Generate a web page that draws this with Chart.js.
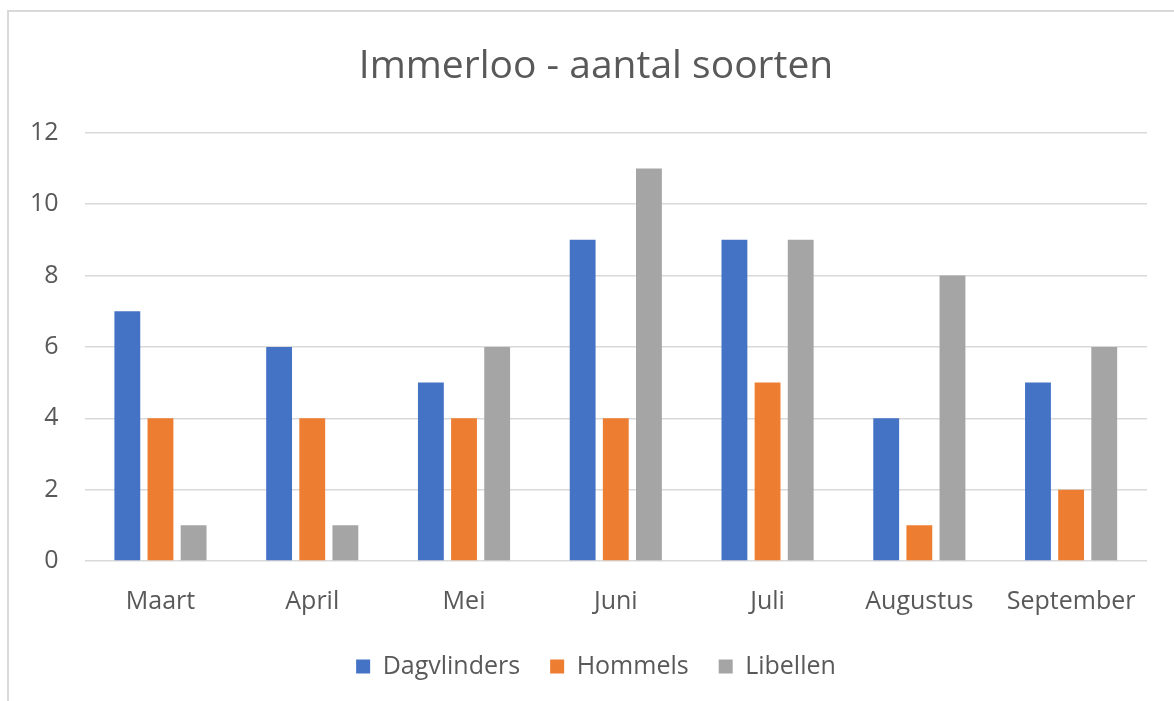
<!DOCTYPE html>
<html>
<head>
<meta charset="utf-8">
<title>Immerloo - aantal soorten</title>
<script src="https://cdn.jsdelivr.net/npm/chart.js@4"></script>
<style>
    html, body { margin: 0; padding: 0; background: #fff; overflow: hidden; }
    #frame {
        position: absolute;
        left: 7px;
        top: 10px;
        width: 1180px;
        height: 700px;
        border: 2px solid #d9d9d9;
    }
    #chart { display: block; }
</style>
</head>
<body>
<div id="frame">
    <canvas id="chart" width="1174" height="690"></canvas>
</div>
<script>
// Data
const months = ['Maart', 'April', 'Mei', 'Juni', 'Juli', 'Augustus', 'September'];
const dagvlinders = [7, 6, 5, 9, 9, 4, 5];
const hommels = [4, 4, 4, 4, 5, 1, 2];
const libellen = [1, 1, 6, 11, 9, 8, 6];
const yTicks = [0, 2, 4, 6, 8, 10, 12];

const textColor = '#595959';
const fontFamily = '"Open Sans", "Noto Sans", sans-serif';

function makeChart() {
    const ctx = document.getElementById('chart').getContext('2d');

    new Chart(ctx, {
        type: 'bar',
        data: {
            labels: months,
            datasets: [
                { label: 'Dagvlinders', data: dagvlinders, backgroundColor: '#4472C4' },
                { label: 'Hommels', data: hommels, backgroundColor: '#ED7D31' },
                { label: 'Libellen', data: libellen, backgroundColor: '#A5A5A5' },
            ]
        },
        options: {
            responsive: false,
            animation: false,
            datasets: {
                bar: { categoryPercentage: 0.655, barPercentage: 0.78 }
            },
            layout: {
                padding: { top: 20, left: 0, right: 0, bottom: 13 }
            },
            plugins: {
                title: {
                    display: true,
                    text: 'Immerloo - aantal soorten',
                    color: textColor,
                    font: { family: fontFamily, size: 39, weight: 'normal' },
                    padding: { top: 11, bottom: 43 },
                },
                legend: {
                    position: 'bottom',
                    labels: {
                        color: textColor,
                        font: { family: fontFamily, size: 25 },
                        boxWidth: 14,
                        boxHeight: 14,
                        padding: 30,
                    }
                },
                tooltip: { enabled: false },
            },
            scales: {
                x: {
                    grid: { display: false },
                    border: { display: false },
                    ticks: {
                        color: textColor,
                        font: { family: fontFamily, size: 25 },
                        padding: 18,
                    },
                    afterFit: scale => { scale.height -= 11; },
                },
                y: {
                    min: 0,
                    max: 12,
                    afterBuildTicks: axis => {
                        axis.ticks = yTicks.map(v => ({ value: v }));
                    },
                    grid: { color: '#d9d9d9', lineWidth: 1.5, drawTicks: false },
                    border: { display: false },
                    ticks: {
                        color: textColor,
                        font: { family: fontFamily, size: 25 },
                        padding: 26,
                    },
                    afterFit: scale => { scale.width -= 5; },
                },
                // empty axis on the right, only keeps the plot off the right edge
                spacer: {
                    type: 'linear',
                    position: 'right',
                    grid: { display: false },
                    border: { display: false },
                    ticks: { display: false },
                    afterFit: scale => { scale.width = 36; },
                },
            },
        }
    });
}

window.onload = makeChart;
</script>
</body>
</html>
